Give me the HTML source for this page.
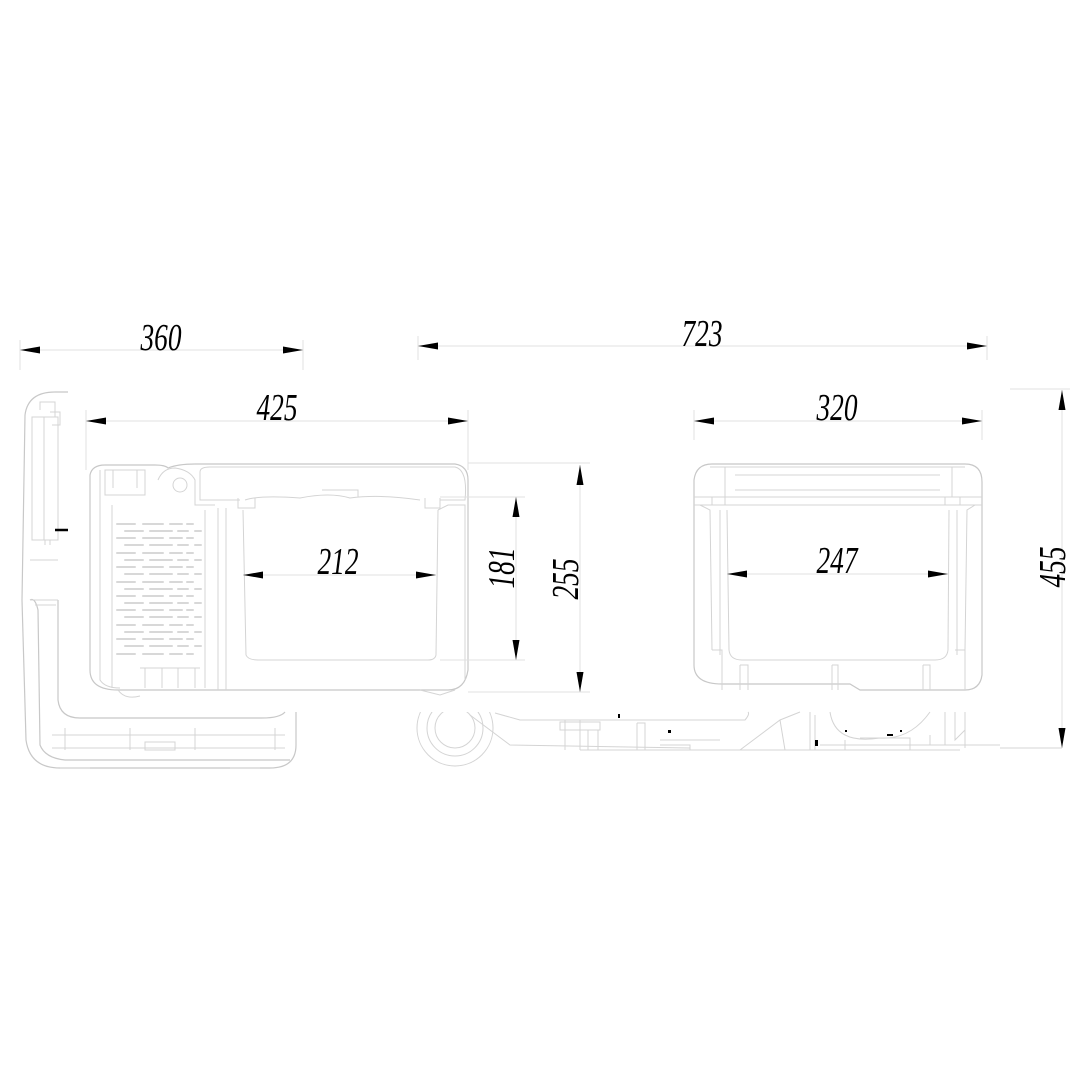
<!DOCTYPE html>
<html><head><meta charset="utf-8"><style>
html,body{margin:0;padding:0;background:#fff;}
svg{display:block}
.d{stroke:#d4d4d4;stroke-width:1;fill:none}
.l{stroke:#c8c8c8;stroke-width:1.2;fill:none}
.dim{stroke:#e0e0e0;stroke-width:1;fill:none}
.t{font-family:"Liberation Serif",serif;font-style:italic;font-size:38px;fill:#000}
.a{fill:#000}
</style></head><body>
<svg width="1080" height="1080" viewBox="0 0 1080 1080" xmlns="http://www.w3.org/2000/svg">
<defs>
<path id="ar" d="M0,0 L20,-3.5 L20,3.5 Z"/>
<clipPath id="wc"><rect x="400" y="712" width="120" height="60"/></clipPath>
</defs>

<path class="l" d="M25,415 Q28,392 55,392 L68,392"/>
<path class="l" d="M25,415 L22,600 L26,740 Q30,768 60,768 L270,768 Q296,768 296,745 L296,712"/>
<path class="l" d="M30,600 Q35,597 38,610 L40,745 Q45,758 65,760 L290,760"/>
<path class="l" d="M58,600 L58,700 Q60,718 80,718 L262,718 Q280,718 285,712"/>
<path class="d" d="M32,417 L44,417 L44,540 L32,540 Z M44,417 L58,417 L58,540 L44,540"/>
<path class="d" d="M40,410 L40,402 L55,402 L55,417 M50,412 L60,412 L60,425 L52,425"/>
<path class="d" d="M45,540 L45,545 M50,540 L50,545 M30,600 L58,600 M35,605 L56,605 M30,560 L58,560"/>
<path class="d" d="M52,735 L285,735 M52,748 L285,748 M65,728 L65,750 M130,728 L130,750 M195,728 L195,750 M275,728 L275,750 M145,742 L175,742 L175,750 L145,750 Z"/>
<path class="d" d="M60,768 L90,768 M230,768 L260,768"/>
<line x1="55" y1="530" x2="68" y2="530" stroke="#000" stroke-width="2.5"/>

<path class="l" d="M90,475 Q92,465 105,465 L155,465 Q165,465 168,468 Q178,464 195,464 L455,464 Q468,466 468,480 L468,670 Q465,690 448,690 L118,690 Q90,690 90,670 Z"/>
<path class="d" d="M100,470 L100,680 Q105,688 120,688"/>
<path class="d" d="M105,470 L145,470 L145,495 L105,495 Z M113,470 L113,488 M137,470 L137,488"/>
<circle class="d" cx="180" cy="485" r="7"/>
<path class="d" d="M158,480 Q163,468 175,468 Q190,470 195,480 L195,505 L215,505"/>
<path class="d" d="M200,472 Q200,467 210,467 L455,467 Q468,470 465,500 L440,500 M200,472 L200,500 L240,500"/>
<path class="d" d="M245,500 Q260,495 300,498 Q330,492 350,498 Q380,494 420,500 M322,490 L358,490 L358,497"/>
<path class="d" d="M238,498 L238,508 L255,508 L255,498 M425,498 L425,508 L440,508 L440,498"/>
<path class="d" d="M243,510 L246,655 Q248,660 258,660 L428,660 Q435,660 436,655 L438,510"/>
<path class="d" d="M218,508 L218,690 M226,508 L226,690 M205,510 L205,688 M112,505 L112,688"/>
<path class="d" d="M438,510 L448,505 L465,505 L465,680"/>
<path class="d" d="M145,668 L145,688 M162,668 L162,688 M178,668 L178,688 M195,668 L195,688 M140,668 L200,668"/>
<path class="d" d="M118,690 Q125,700 140,696 M420,690 L440,695 L455,690"/>
<g stroke="#d8d8d8" stroke-width="2" stroke-linecap="round" fill="none">
<path d="M117,524 h18 M143,524 h20 M170,524 h12 M187,524 h6
M125,531 h18 M150,531 h22 M178,531 h10 M195,531 h6
M117,538 h18 M143,538 h20 M170,538 h12 M187,538 h6
M125,545 h18 M150,545 h22 M178,545 h10 M195,545 h6
M117,553 h18 M143,553 h20 M170,553 h12 M187,553 h6
M125,560 h18 M150,560 h22 M178,560 h10 M195,560 h6
M117,567 h18 M143,567 h20 M170,567 h12 M187,567 h6
M125,574 h18 M150,574 h22 M178,574 h10 M195,574 h6
M117,582 h18 M143,582 h20 M170,582 h12 M187,582 h6
M125,589 h18 M150,589 h22 M178,589 h10 M195,589 h6
M117,596 h18 M143,596 h20 M170,596 h12 M187,596 h6
M125,603 h18 M150,603 h22 M178,603 h10 M195,603 h6
M117,610 h18 M143,610 h20 M170,610 h12 M187,610 h6
M125,617 h18 M150,617 h22 M178,617 h10 M195,617 h6
M117,625 h18 M143,625 h20 M170,625 h12 M187,625 h6
M125,632 h18 M150,632 h22 M178,632 h10 M195,632 h6
M117,639 h18 M143,639 h20 M170,639 h12 M187,639 h6
M125,646 h18 M150,646 h22 M178,646 h10 M195,646 h6
M117,654 h18 M143,654 h20 M170,654 h12 M187,654 h6"/>
</g>

<path class="l" d="M694,480 Q696,464 712,464 L965,464 Q982,464 982,482 L982,675 Q980,690 965,690 L860,690 L850,684 L722,684 Q694,684 694,665 Z"/>
<path class="d" d="M710,467 L965,467 M725,467 L725,497 M952,467 L952,497 M735,475 L940,475 M735,490 L940,490 M694,497 L982,497 M694,505 L982,505"/>
<path class="d" d="M712,497 L712,505 L725,505 L725,497 M945,497 L945,505 L960,505 L960,497"/>
<path class="d" d="M727,510 L729,650 Q730,660 742,660 L935,660 Q947,660 948,650 L949,510"/>
<path class="d" d="M700,505 L710,510 L712,650 M975,505 L967,510 L965,650 M720,510 L720,655 M957,510 L957,655"/>
<path class="d" d="M712,650 L722,650 L722,690 M740,665 L748,665 L748,690 M740,665 L740,690 M832,665 L838,665 L838,690 M832,665 L832,690 M923,665 L930,665 L930,690 M923,665 L923,690 M955,650 L965,650 L965,690"/>

<g class="d">
<g clip-path="url(#wc)">
<circle cx="455" cy="728" r="38"/><circle cx="455" cy="728" r="28"/><circle cx="455" cy="728" r="20"/>
</g>
<path d="M470,715 L510,745 L690,748 M495,713 L520,720 L745,720 Q750,714 748,712 M565,720 L565,750 M580,720 L580,750 M560,722 L600,722 L600,730 L560,730 Z M588,730 L588,750 M598,730 L598,750"/>
<path d="M637,723 L645,723 L645,750 M637,723 L637,750 M660,745 L690,745 L690,750 M660,740 L720,740"/>
<path d="M740,750 L780,720 L800,712 M780,720 L785,750 M810,712 L810,750 M815,715 L815,750"/>
<path d="M830,712 Q835,745 880,738 Q910,740 930,712 M845,740 L845,750 M860,738 L910,738 L910,750 M930,735 L930,745"/>
<path d="M945,712 L945,745 M955,712 L955,740 L965,730 M965,712 L965,748 M820,745 L1000,745 M1000,748 L1062,748"/>
</g>
<path d="M580,750 L960,750" class="d"/>
<rect x="668" y="730" width="3" height="3" fill="#000"/>
<rect x="618" y="714" width="2" height="4" fill="#000"/>
<rect x="815" y="740" width="3" height="6" fill="#000"/>
<rect x="887" y="734" width="6" height="2" fill="#000"/>
<rect x="845" y="730" width="2" height="2" fill="#000"/><rect x="900" y="730" width="2" height="2" fill="#000"/>

<g class="dim">
<line x1="20" y1="350" x2="303" y2="350"/><line x1="20" y1="340" x2="20" y2="370"/><line x1="303" y1="340" x2="303" y2="370"/>
<line x1="418" y1="346" x2="987" y2="346"/><line x1="418" y1="336" x2="418" y2="360"/><line x1="987" y1="336" x2="987" y2="360"/>
<line x1="86" y1="421" x2="468" y2="421"/><line x1="86" y1="410" x2="86" y2="470"/><line x1="468" y1="410" x2="468" y2="470"/>
<line x1="694" y1="421" x2="982" y2="421"/><line x1="694" y1="410" x2="694" y2="440"/><line x1="982" y1="410" x2="982" y2="440"/>
<line x1="243" y1="575" x2="436" y2="575"/>
<line x1="727" y1="574" x2="948" y2="574"/>
<line x1="516" y1="497" x2="516" y2="660"/><line x1="440" y1="497" x2="525" y2="497"/><line x1="440" y1="660" x2="525" y2="660"/>
<line x1="580" y1="465" x2="580" y2="692"/><line x1="468" y1="463" x2="590" y2="463"/><line x1="468" y1="692" x2="590" y2="692"/>
<line x1="1062" y1="390" x2="1062" y2="748"/><line x1="1010" y1="389" x2="1070" y2="389"/>
</g>

<g class="a">
<use href="#ar" transform="translate(20,350)"/><use href="#ar" transform="translate(303,350) rotate(180)"/>
<use href="#ar" transform="translate(418,346)"/><use href="#ar" transform="translate(987,346) rotate(180)"/>
<use href="#ar" transform="translate(86,421)"/><use href="#ar" transform="translate(468,421) rotate(180)"/>
<use href="#ar" transform="translate(694,421)"/><use href="#ar" transform="translate(982,421) rotate(180)"/>
<use href="#ar" transform="translate(243,575)"/><use href="#ar" transform="translate(436,575) rotate(180)"/>
<use href="#ar" transform="translate(727,574)"/><use href="#ar" transform="translate(948,574) rotate(180)"/>
<use href="#ar" transform="translate(516,497) rotate(90)"/><use href="#ar" transform="translate(516,660) rotate(-90)"/>
<use href="#ar" transform="translate(580,465) rotate(90)"/><use href="#ar" transform="translate(580,692) rotate(-90)"/>
<use href="#ar" transform="translate(1062,390) rotate(90)"/><use href="#ar" transform="translate(1062,748) rotate(-90)"/>
</g>

<g class="t" text-anchor="middle">
<text transform="translate(161,350) scale(0.72,1)">360</text>
<text transform="translate(702,346) scale(0.72,1)">723</text>
<text transform="translate(277,420) scale(0.72,1)">425</text>
<text transform="translate(837,420) scale(0.72,1)">320</text>
<text transform="translate(338,574) scale(0.72,1)">212</text>
<text transform="translate(837,573) scale(0.72,1)">247</text>
<text transform="translate(514,568) rotate(-90) scale(0.72,1)">181</text>
<text transform="translate(578,579) rotate(-90) scale(0.72,1)">255</text>
<text transform="translate(1065,567) rotate(-90) scale(0.72,1)">455</text>
</g>
</svg>
</body></html>
